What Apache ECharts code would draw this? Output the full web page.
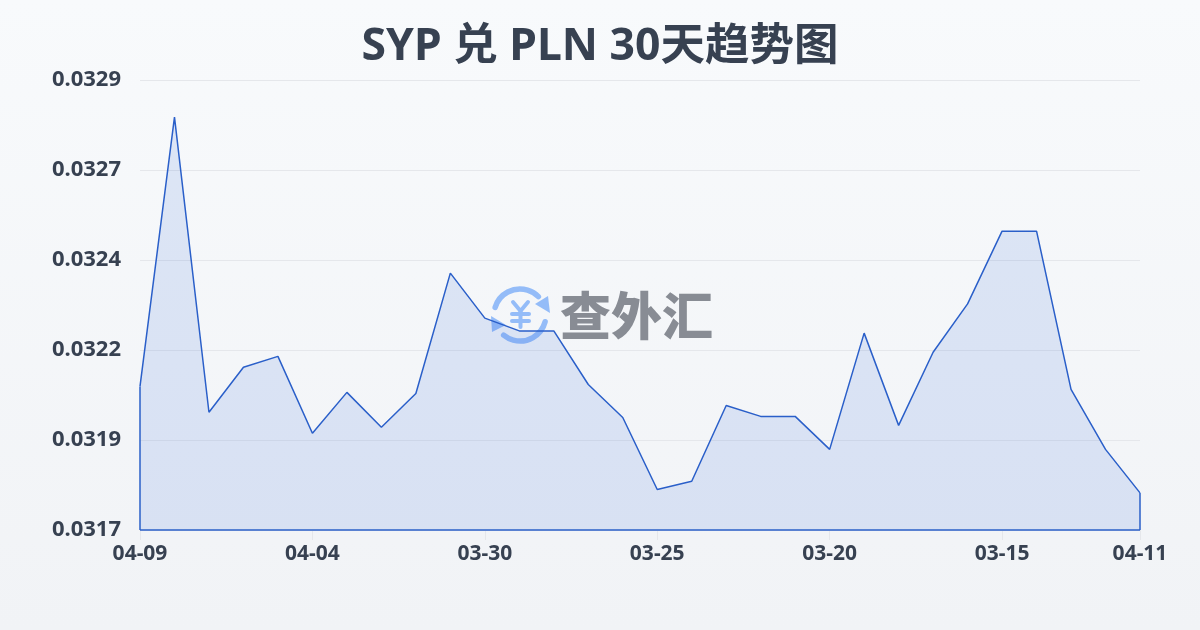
<!DOCTYPE html>
<html><head><meta charset="utf-8">
<style>html,body{margin:0;padding:0;width:1200px;height:630px;overflow:hidden;background:#f5f7fa}#c{width:1200px;height:630px}</style>
<script src="https://cdn.jsdelivr.net/npm/echarts@6/dist/echarts.min.js"></script>
</head><body><div id="c"></div>
<script>
const titleText = 'SYP 兑 PLN 30天趋势图';
const categories = ['04-09','04-08','04-07','04-06','04-05','04-04','04-03','04-02','04-01','03-31','03-30','03-29','03-28','03-27','03-26','03-25','03-24','03-23','03-22','03-21','03-20','03-19','03-18','03-17','03-16','03-15','03-14','03-13','03-12','04-11'];
const values = [0.032083,0.032801,0.032014,0.032134,0.032163,0.031958,0.032067,0.031974,0.032064,0.032385,0.032265,0.032231,0.032231,0.032088,0.032,0.031808,0.03183,0.032032,0.032003,0.032003,0.031915,0.032225,0.031979,0.032174,0.032303,0.032497,0.032497,0.032075,0.031915,0.031799];
const yMin = 0.0317, yMax = 0.0329;
const last = categories.length - 1;
const lineColor = '#2a5fc9';
const logoBlue = '#94bcf8';
const deg = Math.PI / 180;
const chart = echarts.init(document.getElementById('c'), null, {renderer:'canvas'});
const font = '"Noto Sans","Noto Sans CJK SC",sans-serif';
const yen = (points) => ({type:'polyline',z:1,shape:{points},style:{fill:null,stroke:logoBlue,lineWidth:4,lineCap:'round',lineJoin:'round'}});
chart.setOption({
  animation:false,
  backgroundColor:new echarts.graphic.LinearGradient(0,0,0,1,[{offset:0,color:'#f8fafc'},{offset:1,color:'#f1f3f6'}]),
  title:{text:titleText,left:'center',top:20,textStyle:{fontFamily:font,fontSize:44.5,fontWeight:'bold',color:'#374151'}},
  grid:{left:140,right:60,top:80,bottom:100,containLabel:false},
  xAxis:{type:'category',data:categories,boundaryGap:false,
    axisLine:{show:false},
    axisTick:{show:true,length:10,alignWithLabel:true,interval:i=>i%5===0||i===last,lineStyle:{color:'#e5e7eb'}},
    axisLabel:{interval:i=>i%5===0||i===last,margin:14,fontFamily:font,fontSize:21,fontWeight:'bold',color:'#374151',showMinLabel:true,showMaxLabel:true},
    splitLine:{show:false}},
  yAxis:{type:'value',min:yMin,max:yMax,interval:(yMax-yMin)/5,
    axisLine:{show:false},axisTick:{show:false},
    axisLabel:{margin:19,fontFamily:font,fontSize:22,fontWeight:'bold',color:'#374151',formatter:v=>v.toFixed(4)},
    splitLine:{show:true,lineStyle:{color:'#e5e7eb',width:1}}},
  series:[{type:'line',data:values,symbol:'none',smooth:false,z:3,
    lineStyle:{color:lineColor,width:1.5},
    areaStyle:{color:'rgba(66,113,220,0.2)',origin:'start'},
    markLine:{silent:true,symbol:'none',label:{show:false},lineStyle:{color:lineColor,width:1.5,type:'solid'},
      data:[
        [{xAxis:0,yAxis:values[0]},{xAxis:0,yAxis:yMin}],
        [{xAxis:last,yAxis:values[last]},{xAxis:last,yAxis:yMin}],
        [{xAxis:0,yAxis:yMin},{xAxis:last,yAxis:yMin}]
      ]}
  }],
  graphic:[
    {type:'arc',z:1,shape:{cx:520,cy:315,r:26,startAngle:-163*deg,endAngle:-45*deg},style:{fill:null,stroke:logoBlue,lineWidth:5.5,lineCap:'round'}},
    {type:'arc',z:1,shape:{cx:520,cy:315,r:26,startAngle:15*deg,endAngle:129*deg},style:{fill:null,stroke:logoBlue,lineWidth:5.5,lineCap:'round'}},
    {type:'polygon',z:1,shape:{points:[[548,296],[550,313],[535,304]]},style:{fill:logoBlue}},
    {type:'polygon',z:1,shape:{points:[[491,316],[492,332],[506,325]]},style:{fill:logoBlue}},
    yen([[513,302],[520.5,311],[528,302]]),
    yen([[520.5,311],[520.5,327]]),
    yen([[512,314],[529,314]]),
    yen([[512,321],[529,321]]),
    {type:'text',z:1,x:560,y:316,style:{text:'查外汇',fill:'#888c94',font:'900 51px "Noto Sans CJK SC"',align:'left',verticalAlign:'middle'}}
  ]
});
</script></body></html>
